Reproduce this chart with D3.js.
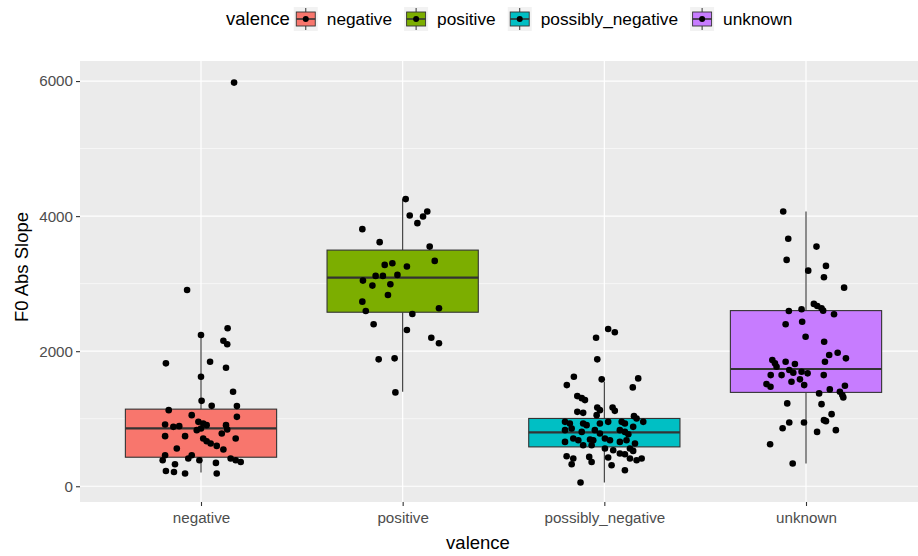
<!DOCTYPE html>
<html>
<head>
<meta charset="utf-8">
<script src="https://cdn.jsdelivr.net/npm/d3@7"></script>
<style>
  body { margin: 0; background: #fff; }
  svg { display: block; font-family: "Liberation Sans", Arial, sans-serif; }
</style>
</head>
<body>
<div id="chart"></div>
<script>
const width = 918;
const height = 556;

// categories and box stats
const categories = ["negative", "positive", "possibly_negative", "unknown"];
const fills = ["#F8766D", "#7CAE00", "#00BFC4", "#C77CFF"];
const whiskerLo = [205, 1400, 55, 337];
const q1 = [430, 2577, 583, 1390];
const medians = [856, 3090, 797, 1736];
const q3 = [1142, 3497, 1004, 2601];
const whiskerHi = [2240, 4258, 1548, 4070];
const yTicks = [0, 2000, 4000, 6000];
const yMinor = [1000, 3000, 5000];

// jittered points: [jitter (in category units), value]
const negativePts = [
  [0.164, 5977], [-0.069, 2907], [0.132, 2339], [0.0, 2240], [0.111, 2155], [0.130, 2102],
  [-0.174, 1820], [0.045, 1844], [0.124, 1755], [0.0, 1621], [0.159, 1399], [0.003, 1265],
  [0.053, 1191], [0.178, 1187], [-0.160, 1127], [-0.046, 1053], [0.178, 1028], [-0.178, 915],
  [-0.137, 880], [-0.108, 890], [-0.013, 954], [0.011, 930], [0.028, 905], [0.0, 856],
  [-0.021, 831], [0.124, 905], [0.130, 841], [0.103, 782], [-0.178, 742], [-0.079, 742],
  [0.011, 708], [0.028, 667], [0.048, 633], [0.078, 598], [0.172, 708], [-0.120, 559],
  [0.111, 544], [-0.046, 460], [-0.063, 411], [-0.178, 460], [-0.190, 386], [-0.008, 386],
  [0.074, 346], [0.147, 411], [0.172, 386], [0.197, 360], [-0.129, 326], [-0.174, 227],
  [-0.134, 212], [-0.079, 188], [0.078, 188]
];
const positivePts = [
  [0.015, 4252], [0.035, 4009], [0.122, 4069], [0.101, 3994], [0.073, 3896], [-0.200, 3807],
  [-0.114, 3615], [0.134, 3549], [0.159, 3337], [-0.089, 3278], [-0.051, 3303], [0.021, 3253],
  [-0.134, 3115], [-0.098, 3115], [-0.026, 3130], [-0.197, 3045], [-0.150, 2971], [-0.061, 2992],
  [-0.073, 2833], [-0.200, 2734], [-0.183, 2596], [0.180, 2636], [0.048, 2551], [-0.144, 2398],
  [0.021, 2314], [0.142, 2200], [0.180, 2117], [-0.119, 1879], [-0.040, 1894], [-0.036, 1390]
];
const possiblyNegativePts = [
  [0.019, 2329], [0.052, 2280], [-0.041, 2200], [-0.035, 1879], [-0.151, 1621], [-0.013, 1583],
  [0.168, 1597], [-0.186, 1498], [0.141, 1464], [-0.134, 1335], [-0.112, 1305], [-0.096, 1276],
  [-0.035, 1167], [-0.022, 1127], [0.041, 1167], [0.052, 1117], [-0.134, 1102], [-0.105, 1087],
  [-0.038, 1053], [0.147, 1038], [0.160, 1004], [0.193, 954], [-0.195, 954], [-0.171, 930],
  [-0.105, 930], [-0.088, 905], [-0.022, 930], [0.019, 954], [0.086, 954], [0.102, 930],
  [-0.195, 831], [-0.162, 856], [-0.112, 805], [-0.047, 831], [-0.022, 782], [0.077, 831],
  [0.102, 805], [0.119, 771], [0.143, 880], [-0.154, 708], [-0.129, 682], [-0.071, 693],
  [-0.055, 682], [0.003, 708], [0.028, 682], [0.077, 657], [0.110, 682], [-0.195, 657],
  [0.152, 633], [-0.105, 608], [-0.063, 608], [0.003, 559], [0.044, 534], [0.127, 559],
  [0.143, 524], [0.077, 485], [0.102, 475], [-0.187, 445], [-0.154, 411], [-0.075, 435],
  [0.019, 426], [0.127, 411], [0.160, 386], [0.185, 411], [-0.162, 326], [-0.063, 360],
  [0.036, 311], [0.102, 237], [-0.118, 55]
];
const unknownPts = [
  [-0.113, 4069], [-0.088, 3664], [0.052, 3549], [-0.096, 3352], [0.099, 3263], [0.011, 3193],
  [0.089, 3096], [0.189, 2941], [0.039, 2700], [0.056, 2670], [0.077, 2636], [0.085, 2600],
  [-0.085, 2596], [-0.022, 2621], [0.139, 2547], [-0.101, 2398], [-0.019, 2437], [-0.002, 2214],
  [0.090, 2140], [0.115, 1943], [0.157, 1977], [0.198, 1894], [0.094, 1844], [-0.167, 1869],
  [-0.154, 1820], [-0.146, 1770], [-0.101, 1844], [-0.055, 1810], [-0.083, 1721], [-0.063, 1681],
  [-0.121, 1646], [-0.175, 1646], [-0.022, 1695], [0.008, 1672], [0.088, 1646], [-0.072, 1547],
  [-0.030, 1583], [-0.009, 1498], [-0.196, 1513], [-0.176, 1473], [0.193, 1488], [0.065, 1375],
  [0.118, 1434], [0.168, 1399], [0.180, 1350], [0.185, 1316], [-0.093, 1227], [0.077, 1216],
  [0.127, 1068], [0.089, 979], [0.099, 964], [-0.083, 945], [-0.010, 945], [-0.116, 860],
  [0.055, 805], [0.148, 831], [-0.178, 623], [-0.066, 337]
];
const pointSets = [negativePts, positivePts, possiblyNegativePts, unknownPts];

// panel
const panel = { left: 80, right: 927, top: 61, bottom: 502 };

const x = d3.scalePoint()
    .domain(categories)
    .range([panel.left, panel.right])
    .padding(0.6);
const step = x.step();

const y = d3.scaleLinear()
    .domain([-233, 6297])
    .range([panel.bottom, panel.top]);

const svg = d3.select("#chart")
    .append("svg")
    .attr("width", width)
    .attr("height", height);

svg.append("rect").attr("width", width).attr("height", height).attr("fill", "#fff");

svg.append("defs").append("clipPath").attr("id", "clip")
  .append("rect")
    .attr("x", panel.left).attr("y", panel.top)
    .attr("width", panel.right - panel.left).attr("height", panel.bottom - panel.top);

const plot = svg.append("g").attr("clip-path", "url(#clip)");

plot.append("rect")
    .attr("x", panel.left).attr("y", panel.top)
    .attr("width", panel.right - panel.left).attr("height", panel.bottom - panel.top)
    .attr("fill", "#EBEBEB");

// grid lines
plot.selectAll("line.minor").data(yMinor).enter().append("line")
    .attr("x1", panel.left).attr("x2", panel.right)
    .attr("y1", d => y(d)).attr("y2", d => y(d))
    .attr("stroke", "#fff").attr("stroke-width", 0.6);
plot.selectAll("line.major").data(yTicks).enter().append("line")
    .attr("x1", panel.left).attr("x2", panel.right)
    .attr("y1", d => y(d)).attr("y2", d => y(d))
    .attr("stroke", "#fff").attr("stroke-width", 1.2);
plot.selectAll("line.vmajor").data(categories).enter().append("line")
    .attr("x1", d => x(d)).attr("x2", d => x(d))
    .attr("y1", panel.top).attr("y2", panel.bottom)
    .attr("stroke", "#fff").attr("stroke-width", 1.2);

// boxes
const boxW = step * 0.75;
const boxes = plot.selectAll("g.box").data(categories).enter().append("g");

boxes.append("line")
    .attr("x1", d => x(d)).attr("x2", d => x(d))
    .attr("y1", (d, i) => y(whiskerHi[i])).attr("y2", (d, i) => y(q3[i]))
    .attr("stroke", "#333").attr("stroke-width", 1.1);
boxes.append("line")
    .attr("x1", d => x(d)).attr("x2", d => x(d))
    .attr("y1", (d, i) => y(q1[i])).attr("y2", (d, i) => y(whiskerLo[i]))
    .attr("stroke", "#333").attr("stroke-width", 1.1);
boxes.append("rect")
    .attr("x", d => x(d) - boxW / 2)
    .attr("width", boxW)
    .attr("y", (d, i) => y(q3[i]))
    .attr("height", (d, i) => y(q1[i]) - y(q3[i]))
    .attr("fill", (d, i) => fills[i])
    .attr("stroke", "#333").attr("stroke-width", 1.1);
boxes.append("line")
    .attr("x1", d => x(d) - boxW / 2).attr("x2", d => x(d) + boxW / 2)
    .attr("y1", (d, i) => y(medians[i])).attr("y2", (d, i) => y(medians[i]))
    .attr("stroke", "#333").attr("stroke-width", 2.2);

// jittered points
categories.forEach((c, i) => {
    plot.selectAll(null).data(pointSets[i]).enter().append("circle")
        .attr("cx", d => x(c) + d[0] * step)
        .attr("cy", d => y(d[1]))
        .attr("r", 3.3)
        .attr("fill", "#000");
});

// axes
const yAxis = svg.append("g")
    .attr("transform", `translate(${panel.left},0)`)
    .call(d3.axisLeft(y).tickValues(yTicks).tickFormat(d3.format("d")).tickSize(4).tickPadding(3));
const xAxis = svg.append("g")
    .attr("transform", `translate(0,${panel.bottom})`)
    .call(d3.axisBottom(x).tickSize(4).tickPadding(6));
[yAxis, xAxis].forEach(a => {
    a.select(".domain").remove();
    a.selectAll(".tick line").attr("stroke", "#333").attr("stroke-width", 1.1);
    a.selectAll(".tick text")
        .attr("fill", "#4D4D4D")
        .style("font-size", "15.2px")
        .style("font-family", "'Liberation Sans', Arial, sans-serif");
});

// axis titles
svg.append("text")
    .attr("x", 478).attr("y", 549)
    .attr("text-anchor", "middle")
    .style("font-size", "18.5px")
    .text("valence");
svg.append("text")
    .attr("transform", "translate(28,267) rotate(-90)")
    .attr("text-anchor", "middle")
    .style("font-size", "18.5px")
    .text("F0 Abs Slope");

// legend
const legend = svg.append("g");
let lx = 226;
const ly = 19;
const title = legend.append("text")
    .attr("x", lx).attr("y", ly + 6)
    .style("font-size", "18.5px")
    .text("valence");
lx += title.node().getComputedTextLength() + 4;

categories.forEach((c, i) => {
    const k = legend.append("g").attr("transform", `translate(${lx},${ly})`);
    k.append("rect").attr("x", 0).attr("y", -12).attr("width", 24).attr("height", 24).attr("fill", "#F2F2F2");
    k.append("line").attr("x1", 12).attr("x2", 12).attr("y1", -11).attr("y2", 11)
        .attr("stroke", "#333").attr("stroke-width", 1);
    k.append("rect").attr("x", 2.5).attr("y", -7).attr("width", 19).attr("height", 14)
        .attr("fill", fills[i]).attr("stroke", "#333").attr("stroke-width", 0.9);
    k.append("line").attr("x1", 2.5).attr("x2", 21.5).attr("y1", 0).attr("y2", 0)
        .attr("stroke", "#333").attr("stroke-width", 1.6);
    k.append("circle").attr("cx", 12).attr("cy", 0).attr("r", 3).attr("fill", "#000");
    const t = legend.append("text")
        .attr("x", lx + 33).attr("y", ly + 6)
        .attr("fill", "#000")
        .style("font-size", "17.3px")
        .text(c);
    lx += 33 + t.node().getComputedTextLength() + 12;
});
</script>
</body>
</html>
